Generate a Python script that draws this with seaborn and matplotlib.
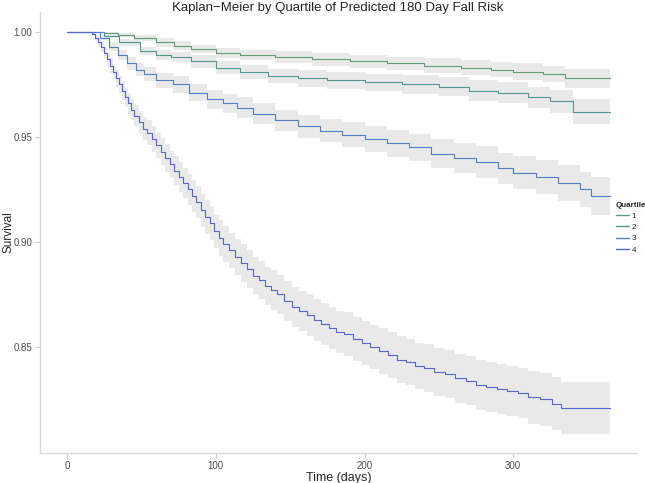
import numpy as np
import pandas as pd
import seaborn as sns
from matplotlib import pyplot as plt
from matplotlib.lines import Line2D

# Kaplan-Meier step points (days, survival, CI half width)
q1_t = [0, 17, 25, 34, 45, 60, 72, 83, 100, 116, 140, 165, 190, 215, 240, 265, 285, 300, 320, 335, 365]
q1_s = [1.0, 1.0, 0.9995, 0.9986, 0.997, 0.995, 0.9935, 0.992, 0.990, 0.989, 0.988, 0.987, 0.986,
        0.985, 0.984, 0.983, 0.982, 0.981, 0.980, 0.978, 0.978]
q1_ci = [0, 0, 0.0005, 0.001, 0.0015, 0.002, 0.002, 0.002, 0.0025, 0.0025, 0.003, 0.003, 0.003,
         0.003, 0.0035, 0.0035, 0.0035, 0.004, 0.004, 0.0045, 0.0045]

q2_t = [0, 17, 25, 35, 49, 60, 70, 83, 100, 116, 135, 155, 175, 200, 225, 250, 270, 290, 310, 325, 340, 365]
q2_s = [1.0, 1.0, 0.998, 0.995, 0.991, 0.989, 0.988, 0.986, 0.983, 0.981, 0.979, 0.978, 0.977,
        0.976, 0.975, 0.974, 0.972, 0.971, 0.969, 0.967, 0.962, 0.962]
q2_ci = [0, 0, 0.001, 0.0015, 0.002, 0.0025, 0.0025, 0.003, 0.003, 0.0035, 0.0035, 0.004, 0.004,
         0.004, 0.0045, 0.0045, 0.005, 0.005, 0.005, 0.0055, 0.006, 0.006]

q3_t = [0, 17, 22, 28, 34, 40, 46, 52, 60, 71, 82, 94, 105, 114, 125, 140, 155, 170, 185, 200,
        215, 230, 245, 260, 275, 290, 300, 315, 330, 345, 352, 365]
q3_s = [1.0, 1.0, 0.997, 0.993, 0.989, 0.985, 0.982, 0.980, 0.977, 0.975, 0.971, 0.968, 0.966,
        0.964, 0.961, 0.958, 0.955, 0.953, 0.951, 0.949, 0.947, 0.945, 0.942, 0.940, 0.938, 0.935,
        0.933, 0.931, 0.928, 0.925, 0.922, 0.922]
q3_ci = [0, 0, 0.001, 0.002, 0.0025, 0.003, 0.003, 0.0035, 0.0035, 0.004, 0.004, 0.0045, 0.0045,
         0.005, 0.005, 0.005, 0.0055, 0.0055, 0.006, 0.006, 0.0065, 0.0065, 0.007, 0.007, 0.0075,
         0.0075, 0.008, 0.008, 0.0085, 0.0085, 0.009, 0.009]

q4_t = [0, 15, 17, 19, 21, 23, 25, 27, 29, 31,
        33, 35, 37, 39, 41, 43, 45, 48, 51, 54,
        57, 60, 63, 66, 69, 72, 75, 78, 81, 84,
        87, 90, 93, 96, 99, 102, 105, 109, 113, 117,
        121, 125, 129, 133, 137, 141, 146, 151, 156, 161,
        166, 171, 176, 181, 186, 192, 198, 204, 210, 216,
        222, 228, 234, 240, 247, 254, 261, 268, 275, 282,
        289, 296, 303, 310, 318, 326, 332, 365]
q4_s = [1.0, 1.0, 0.999, 0.997, 0.995, 0.993, 0.990, 0.987, 0.984, 0.981,
        0.978, 0.975, 0.972, 0.969, 0.966, 0.963, 0.960, 0.957, 0.954, 0.952,
        0.949, 0.946, 0.943, 0.940, 0.937, 0.934, 0.931, 0.928, 0.925, 0.922,
        0.919, 0.915, 0.912, 0.909, 0.905, 0.902, 0.899, 0.896, 0.893, 0.890,
        0.887, 0.884, 0.882, 0.879, 0.877, 0.875, 0.872, 0.869, 0.867, 0.865,
        0.863, 0.861, 0.859, 0.857, 0.856, 0.854, 0.852, 0.850, 0.848, 0.846,
        0.844, 0.843, 0.841, 0.840, 0.838, 0.837, 0.835, 0.834, 0.832, 0.831,
        0.830, 0.829, 0.828, 0.826, 0.825, 0.823, 0.821, 0.821]
q4_ci = [0, 0, 0.001, 0.0015, 0.002, 0.0025, 0.003, 0.003, 0.0035, 0.0035,
         0.004, 0.004, 0.0045, 0.0045, 0.005, 0.005, 0.005, 0.0055, 0.0055, 0.006,
         0.006, 0.006, 0.0065, 0.0065, 0.0065, 0.007, 0.007, 0.007, 0.0075, 0.0075,
         0.0075, 0.008, 0.008, 0.008, 0.008, 0.0085, 0.0085, 0.0085, 0.0085, 0.009,
         0.009, 0.009, 0.009, 0.009, 0.0095, 0.0095, 0.0095, 0.0095, 0.0095, 0.01,
         0.01, 0.01, 0.01, 0.01, 0.0105, 0.0105, 0.0105, 0.0105, 0.011, 0.011,
         0.011, 0.011, 0.011, 0.0115, 0.0115, 0.0115, 0.0115, 0.0115, 0.012, 0.012,
         0.012, 0.012, 0.012, 0.0125, 0.0125, 0.0125, 0.0125, 0.0125]

quartiles = ["1", "2", "3", "4"]
colors = ["#5f9e75", "#4f978f", "#4f7fc4", "#5466d2"]

curves = [(q1_t, q1_s, q1_ci), (q2_t, q2_s, q2_ci), (q3_t, q3_s, q3_ci), (q4_t, q4_s, q4_ci)]
frames = []
for q, (t, s, ci) in zip(quartiles, curves):
    frames.append(pd.DataFrame({"time": t, "surv": s, "ci": ci, "Quartile": q}))
df = pd.concat(frames, ignore_index=True)
df["lo"] = df["surv"] - df["ci"]
df["hi"] = df["surv"] + df["ci"]

sns.set_style("ticks")
plt.rcParams["font.family"] = ["Liberation Sans", "DejaVu Sans"]

fig = plt.figure(figsize=(6.45, 4.83), dpi=100)
# plot panel in pixels: x 40..637, y 12..453
ax = fig.add_axes([40 / 645, 1 - 453 / 483, 597 / 645, 441 / 483])

for q in quartiles:
    d = df[df["Quartile"] == q]
    ax.fill_between(d["time"], d["lo"], d["hi"], step="post", color="#e6e6e6",
                    alpha=0.85, linewidth=0, zorder=1)

sns.lineplot(data=df, x="time", y="surv", hue="Quartile", palette=colors,
             estimator=None, drawstyle="steps-post", linewidth=0.8, legend=False,
             ax=ax, zorder=3)

ax.set_xlim(-18.25, 383.25)
ax.set_ylim(0.7995, 1.0095)
ax.set_xticks([0, 100, 200, 300])
ax.set_yticks([0.85, 0.90, 0.95, 1.00])
ax.set_yticklabels(["0.85", "0.90", "0.95", "1.00"])
ax.tick_params(colors="#cccccc", labelcolor="#4d4d4d", labelsize=7, length=3.5, width=0.8, pad=2)
for side in ["top", "right"]:
    ax.spines[side].set_visible(False)
for side in ["left", "bottom"]:
    ax.spines[side].set_color("#d9d9d9")
    ax.spines[side].set_linewidth(1.0)

ax.set_xlabel("Time (days)", fontsize=9, labelpad=1)
ax.set_ylabel("Survival", fontsize=8.5, va="center")
ax.yaxis.set_label_coords(-32 / 597, 0.5)
fig.text(338 / 645, 1 - 8 / 483, "Kaplan\u2212Meier by Quartile of Predicted 180 Day Fall Risk",
         fontsize=9.5, ha="center", va="center")

handles = [Line2D([], [], color=c, linewidth=1.0) for c in colors]
leg = fig.legend(handles, quartiles, title="Quartile", loc="upper left",
                 bbox_to_anchor=(614 / 645, 1 - 200 / 483), frameon=False, fontsize=5.8,
                 title_fontsize=5.8, handlelength=1.6, handletextpad=0.4, labelspacing=0.45,
                 borderpad=0.2, borderaxespad=0)
leg.get_title().set_fontweight("bold")
leg._legend_box.align = "left"

fig.savefig("out.png", dpi=100)
